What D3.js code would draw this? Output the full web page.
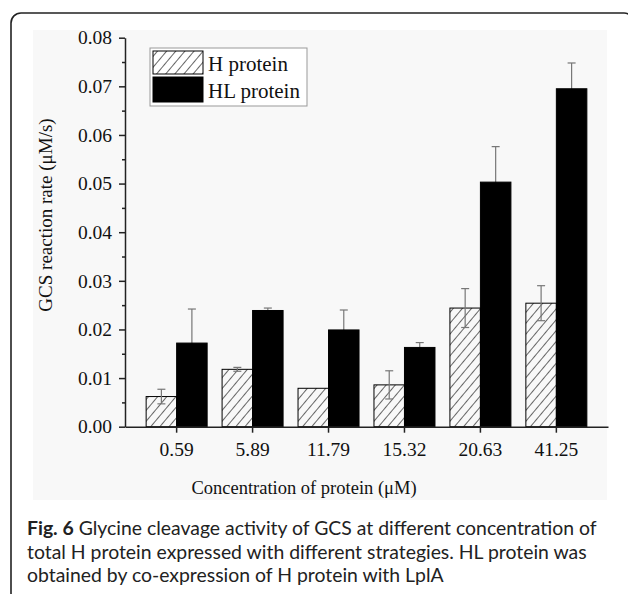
<!DOCTYPE html>
<html>
<head>
<meta charset="utf-8">
<script src="https://cdn.jsdelivr.net/npm/d3@7"></script>
<style>
  body { margin: 0; background: #fff; }
  svg { display: block; }
</style>
</head>
<body>
<div id="chart"></div>
<script>
const width = 628;
const height = 594;

// data
const categories = ["0.59", "5.89", "11.79", "15.32", "20.63", "41.25"];
const series = ["H protein", "HL protein"];
const hValues = [0.0062, 0.0118, 0.0079, 0.0086, 0.0244, 0.0254];
const hErrors = [0.0015, 0.0004, 0, 0.0029, 0.0040, 0.0036];
const hlValues = [0.0172, 0.0239, 0.0199, 0.0163, 0.0503, 0.0695];
const hlErrors = [0.0070, 0.0005, 0.0041, 0.0010, 0.0073, 0.0053];
const yTicks = [0, 0.01, 0.02, 0.03, 0.04, 0.05, 0.06, 0.07, 0.08];
const yMinorTicks = [0.005, 0.015, 0.025, 0.035, 0.045, 0.055, 0.065, 0.075];

const serif = "'Liberation Serif', 'Times New Roman', serif";

const svg = d3.select("#chart").append("svg")
    .attr("width", width)
    .attr("height", height);

// hatch pattern for H protein
const defs = svg.append("defs");
defs.append("pattern")
    .attr("id", "hatch")
    .attr("patternUnits", "userSpaceOnUse")
    .attr("width", 7)
    .attr("height", 7)
    .attr("patternTransform", "rotate(40)")
  .append("line")
    .attr("x1", 3.5).attr("y1", 0)
    .attr("x2", 3.5).attr("y2", 7)
    .attr("stroke", "#666")
    .attr("stroke-width", 1);

// outer frame and faint image background
svg.append("rect")
    .attr("x", 33).attr("y", 30)
    .attr("width", 574).attr("height", 470)
    .attr("fill", "#f8f8f8");

svg.append("rect")
    .attr("x", 11).attr("y", 13)
    .attr("width", 623).attr("height", 590)
    .attr("rx", 10)
    .attr("fill", "none")
    .attr("stroke", "#222")
    .attr("stroke-width", 1.6);

const x = d3.scaleBand()
    .domain(categories)
    .range([125, 608])
    .paddingInner(0)
    .paddingOuter(0.18);

const sub = d3.scaleBand()
    .domain(series)
    .range([0, x.bandwidth()])
    .paddingInner(0)
    .paddingOuter(0.245);

const y = d3.scaleLinear()
    .domain([0, 0.08])
    .range([426.7, 37.7]);

const rows = categories.map((c, i) => ({
    cat: c,
    bars: [
        {key: series[0], value: hValues[i], err: hErrors[i]},
        {key: series[1], value: hlValues[i], err: hlErrors[i]}
    ]
}));

const groups = svg.append("g")
  .selectAll("g")
  .data(rows)
  .join("g")
    .attr("transform", d => `translate(${x(d.cat)},0)`);

// error bars (drawn first so the black bars cover the lower half)
const errG = groups.selectAll("g.err")
  .data(d => d.bars.filter(b => b.err > 0))
  .join("g")
    .attr("class", "err")
    .attr("stroke", "#777")
    .attr("stroke-width", 1.2);

errG.append("line")
    .attr("x1", b => sub(b.key) + sub.bandwidth() / 2)
    .attr("x2", b => sub(b.key) + sub.bandwidth() / 2)
    .attr("y1", b => y(b.value - b.err))
    .attr("y2", b => y(b.value + b.err));
errG.append("line")
    .attr("x1", b => sub(b.key) + sub.bandwidth() / 2 - 4)
    .attr("x2", b => sub(b.key) + sub.bandwidth() / 2 + 4)
    .attr("y1", b => y(b.value + b.err))
    .attr("y2", b => y(b.value + b.err));
errG.filter(b => b.key === series[0]).append("line")
    .attr("x1", b => sub(b.key) + sub.bandwidth() / 2 - 4)
    .attr("x2", b => sub(b.key) + sub.bandwidth() / 2 + 4)
    .attr("y1", b => y(b.value - b.err))
    .attr("y2", b => y(b.value - b.err));

groups.selectAll("rect")
  .data(d => d.bars)
  .join("rect")
    .attr("x", b => sub(b.key))
    .attr("y", b => y(b.value))
    .attr("width", sub.bandwidth())
    .attr("height", b => y(0) - y(b.value))
    .attr("fill", b => b.key === series[0] ? "url(#hatch)" : "#000")
    .attr("stroke", "#000")
    .attr("stroke-width", 1);

// error bars on H bars go on top of the hatch
groups.selectAll("g.err").filter(b => b.key === series[0]).raise();

// axes
svg.append("g")
    .attr("transform", "translate(125,0)")
    .call(d3.axisLeft(y).tickValues(yTicks).tickFormat(d3.format(".2f")).tickSize(6).tickSizeOuter(0).tickPadding(7));

svg.append("g")
    .attr("transform", "translate(125,0)")
    .call(d3.axisLeft(y).tickValues(yMinorTicks).tickFormat("").tickSize(3).tickSizeOuter(0))
    .call(g => g.select(".domain").remove());

svg.append("g")
    .attr("transform", `translate(0,${y(0)})`)
    .call(d3.axisBottom(x).tickSize(6).tickSizeOuter(0).tickPadding(9));

svg.selectAll(".domain, .tick line")
    .attr("stroke", "#222")
    .attr("stroke-width", 1.5);

svg.selectAll(".tick text")
    .attr("font-family", serif)
    .attr("font-size", 19.5)
    .attr("fill", "#111");

// axis titles
svg.append("text")
    .attr("transform", "translate(52,215) rotate(-90)")
    .attr("text-anchor", "middle")
    .attr("font-family", serif)
    .attr("font-size", 19)
    .attr("fill", "#111")
    .text("GCS reaction rate (\u03bcM/s)");

svg.append("text")
    .attr("x", 304)
    .attr("y", 494)
    .attr("text-anchor", "middle")
    .attr("font-family", serif)
    .attr("font-size", 18.5)
    .attr("fill", "#111")
    .text("Concentration of protein (\u03bcM)");

// legend
const legend = svg.append("g");
legend.append("rect")
    .attr("x", 150).attr("y", 48)
    .attr("width", 157).attr("height", 58)
    .attr("fill", "#fff")
    .attr("stroke", "#999")
    .attr("stroke-width", 1);

const legendItems = legend.selectAll("g")
  .data(series)
  .join("g")
    .attr("transform", (d, i) => `translate(153,${i === 0 ? 51 : 77})`);

legendItems.append("rect")
    .attr("width", 50)
    .attr("height", (d, i) => i === 0 ? 23 : 25)
    .attr("fill", (d, i) => i === 0 ? "url(#hatch)" : "#000")
    .attr("stroke", "#000")
    .attr("stroke-width", 1);

legendItems.append("text")
    .attr("x", 55)
    .attr("y", (d, i) => i === 0 ? 19.5 : 21)
    .attr("font-family", serif)
    .attr("font-size", 21)
    .attr("fill", "#111")
    .text(d => d);

// caption
const captionLines = [
    [{t: "Fig. 6", b: true}, {t: " Glycine cleavage activity of GCS at different concentration of", b: false}],
    [{t: "total H protein expressed with different strategies. HL protein was", b: false}],
    [{t: "obtained by co-expression of H protein with LplA", b: false}]
];

const caption = svg.append("text")
    .attr("font-family", "Lato, 'Open Sans', sans-serif")
    .attr("font-size", 19.4)
    .attr("fill", "#222");

captionLines.forEach((line, i) => {
    line.forEach((seg, j) => {
        const ts = caption.append("tspan")
            .attr("font-weight", seg.b ? "bold" : "normal")
            .text(seg.t);
        if (j === 0) ts.attr("x", 27).attr("y", 535 + i * 23.5);
    });
});
</script>
</body>
</html>
